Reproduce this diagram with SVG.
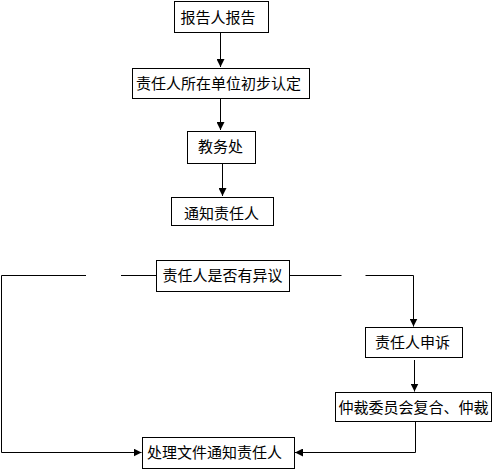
<svg xmlns="http://www.w3.org/2000/svg" width="493" height="470" viewBox="0 0 493 470">
<style>
rect{fill:#fff;stroke:#000;stroke-width:1}
text{font-family:"Noto Sans CJK SC","Noto Sans",sans-serif;font-size:15px;fill:#000;text-anchor:middle}
.c path{fill:none;stroke:#000;stroke-width:1}
</style>
<defs>
<marker id="a" markerWidth="8" markerHeight="8" refX="8" refY="4" orient="auto" markerUnits="userSpaceOnUse">
<path d="M0,0 L8,4 L0,8 z" fill="#000"/>
</marker>
</defs>
<rect x="0" y="0" width="493" height="470" fill="#fff" stroke="none" style="stroke:none"/>
<g class="c" id="connectors">
<path d="M220.5,32.5 V67" marker-end="url(#a)"/>
<path d="M220.5,99 V130" marker-end="url(#a)"/>
<path d="M222.5,163.5 V196" marker-end="url(#a)"/>
<path d="M86,275.5 H1.5 V452.5 H141.5" marker-end="url(#a)"/>
<path d="M121,275.5 H156"/>
<path d="M289.5,275.5 H341.5"/>
<path d="M365.5,275.5 H413.5 V326.5" marker-end="url(#a)"/>
<path d="M414.5,360 V391.5" marker-end="url(#a)"/>
<path d="M415.5,422 V452.5 H295" marker-end="url(#a)"/>
</g>
<g id="n1"><rect x="174.5" y="1.5" width="94" height="31"/><text x="218" y="22.5">报告人报告</text></g>
<g id="n2"><rect x="132.5" y="68.5" width="177" height="30"/><text x="218.5" y="89">责任人所在单位初步认定</text></g>
<g id="n3"><rect x="187.5" y="131.5" width="68" height="32"/><text x="220.5" y="152">教务处</text></g>
<g id="n4"><rect x="171.5" y="197.5" width="102" height="28"/><text x="221.5" y="219">通知责任人</text></g>
<g id="n5"><rect x="156.5" y="260.5" width="133" height="31"/><text x="222.5" y="281">责任人是否有异议</text></g>
<g id="n7"><rect x="365.5" y="327.5" width="97" height="30"/><text x="412.5" y="348">责任人申诉</text></g>
<g id="n8"><rect x="335.5" y="392.5" width="156" height="29"/><text x="413.5" y="413">仲裁委员会复合、仲裁</text></g>
<g id="n6"><rect x="142.5" y="437.5" width="152" height="31"/><text x="214.5" y="458">处理文件通知责任人</text></g>
</svg>
